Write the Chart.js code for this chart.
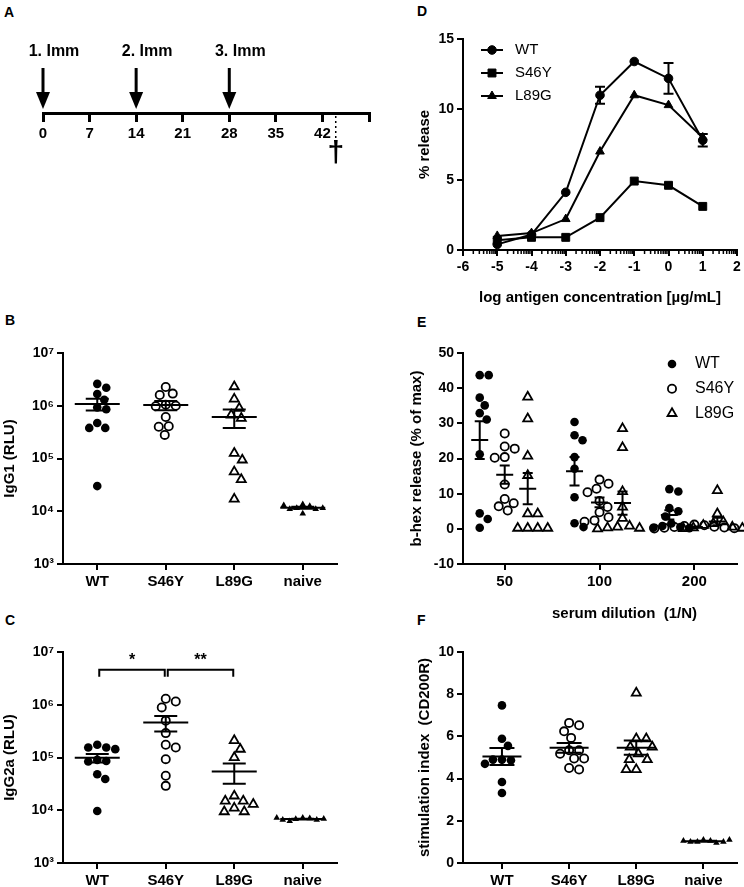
<!DOCTYPE html>
<html>
<head>
<meta charset="utf-8">
<script src="https://cdn.jsdelivr.net/npm/chart.js@4.4.1/dist/chart.umd.min.js"></script>
<style>
  body { margin: 0; background: #fff; width: 744px; height: 887px; position: relative; overflow: hidden; }
  canvas { position: absolute; }
  .lbl { position: absolute; font: bold 14px "Liberation Sans", Arial, sans-serif; line-height: 16px; }
  .ttl { position: absolute; font: bold 15px "Liberation Sans", Arial, sans-serif; line-height: 18px; white-space: pre; }
</style>
</head>
<body>
<div class="lbl" style="left:4px;top:4px">A</div>
<div class="lbl" style="left:5px;top:312px">B</div>
<div class="lbl" style="left:5px;top:612px">C</div>
<div class="lbl" style="left:417px;top:3px">D</div>
<div class="lbl" style="left:417px;top:314px">E</div>
<div class="lbl" style="left:417px;top:612px">F</div>

<canvas id="cA" width="380" height="175" style="left:0;top:0"></canvas>
<canvas id="cB" width="345" height="265" style="left:0;top:335px"></canvas>
<canvas id="cC" width="345" height="257" style="left:0;top:630px"></canvas>
<canvas id="cD" width="364" height="310" style="left:380px;top:0"></canvas>
<canvas id="cE" width="364" height="295" style="left:380px;top:330px"></canvas>
<canvas id="cF" width="364" height="257" style="left:380px;top:630px"></canvas>
<div class="ttl" style="left:552px;top:604px">serum dilution  (1/N)</div>

<script>
// ---- data ----
// A: immunisation schedule (days)
var timelineDays = [0, 7, 14, 21, 28, 35, 42, 49];
var immDays = [0, 14, 28];
var immLabels = ['1. Imm', '2. Imm', '3. Imm'];
var sacrificeDay = 44;

// B / C / F groups
var groups = ['WT', 'S46Y', 'L89G', 'naive'];
var logTicks = [1e3, 1e4, 1e5, 1e6, 1e7];

// B: IgG1 (RLU)
var igg1WT = [2.6e6, 2.2e6, 1.67e6, 1.3e6, 9.3e5, 8.6e5, 4.7e5, 3.8e5, 3.8e5, 3.0e4];
var igg1S46Y = [2.26e6, 1.7e6, 1.6e6, 1.05e6, 1.0e6, 9.8e5, 6.1e5, 4.1e5, 4.0e5, 2.8e5];
var igg1L89G = [2.3e6, 1.34e6, 9.0e5, 6.7e5, 5.8e5, 1.26e5, 9.4e4, 5.6e4, 4.0e4, 1.7e4];
var igg1Naive = [1.35e4, 1.25e4, 1.15e4, 1.1e4, 9.0e3, 1.1e4, 1.15e4, 1.3e4];

// C: IgG2a (RLU)
var igg2aWT = [1.75e5, 1.55e5, 1.55e5, 1.44e5, 9.0e4, 8.6e4, 8.4e4, 4.8e4, 3.9e4, 9.7e3];
var igg2aS46Y = [1.3e6, 1.15e6, 8.9e5, 5.0e5, 2.9e5, 1.75e5, 1.55e5, 9.3e4, 4.5e4, 2.9e4];
var igg2aL89G = [2.1e5, 1.44e5, 1.0e5, 1.87e4, 1.5e4, 1.5e4, 1.3e4, 1.1e4, 9.4e3, 9.4e3];
var igg2aNaive = [7.2e3, 7.0e3, 6.8e3, 6.6e3, 6.2e3, 6.6e3, 6.9e3, 7.2e3];
var igg2aStats = [['WT', 'S46Y', '*'], ['S46Y', 'L89G', '**']];
var statsLevel = 4.6e6, statsFoot = 3.4e6;

// D: % release vs log antigen concentration
var logConc = [-5, -4, -3, -2, -1, 0, 1];
var releaseWT = [0.4, 1.1, 4.1, 11.0, 13.4, 12.2, 7.8];
var releaseWTErr = [0.1, 0.1, 0.1, 0.6, 0.3, 1.1, 0.45];
var releaseS46Y = [0.7, 0.9, 0.9, 2.3, 4.9, 4.6, 3.1];
var releaseL89G = [1.0, 1.2, 2.2, 7.0, 11.0, 10.3, 8.0];

// E: b-hex release (% of max) by serum dilution
var dilutions = ['50', '100', '200'];
var hexWT50 = [43.7, 43.7, 37.3, 35.1, 32.9, 31.1, 21.2, 4.4, 2.8, 0.3];
var hexWT100 = [30.4, 26.6, 25.2, 20.4, 17.1, 9.0, 1.6, 0.5];
var hexWT200 = [11.3, 10.6, 5.9, 5.0, 3.5, 1.5, 0.8, 0.5, 0.3, 0.2];
var hexS46Y50 = [27.1, 23.4, 22.8, 20.4, 20.2, 12.6, 8.5, 7.3, 6.4, 5.2];
var hexS46Y100 = [14.0, 12.8, 11.4, 10.4, 7.9, 6.2, 4.7, 3.3, 2.4, 2.0];
var hexS46Y200 = [1.2, 1.0, 0.8, 0.6, 0.5, 0.4, 0.3, 0.2, 0.1, 0.0];
var hexL89G50 = [37.5, 31.3, 20.7, 15.2, 4.3, 4.3, 0.2, 0.2, 0.2, 0.2];
var hexL89G100 = [28.5, 23.1, 10.6, 6.2, 3.0, 0.8, 0.5, 0.3, 0.2, 0.0];
var hexL89G200 = [10.9, 4.3, 2.0, 1.5, 1.0, 0.5, 0.3, 0.2, 0.1, 0.0];

// F: stimulation index (CD200R)
var stimWT = [7.47, 5.89, 5.55, 4.9, 4.9, 4.87, 4.7, 3.84, 3.32];
var stimS46Y = [6.64, 6.53, 6.24, 5.93, 5.34, 5.34, 5.18, 4.95, 4.95, 4.5, 4.43];
var stimL89G = [8.06, 5.89, 5.89, 5.5, 5.5, 5.18, 4.9, 4.9, 4.43, 4.43];
var stimNaive = [1.1, 1.05, 1.0, 1.0, 0.95, 1.0, 1.05, 1.1];

// ---- styles ----
var FONT = '"Liberation Sans", Arial, sans-serif';
Chart.defaults.font.family = FONT;
Chart.defaults.color = '#000';

var sup = { 3: '\u00b3', 4: '\u2074', 5: '\u2075', 6: '\u2076', 7: '\u2077' };

var filledDot = { pointStyle: 'circle', pointRadius: 4.3, pointBackgroundColor: '#000', pointBorderColor: '#000', pointBorderWidth: 0, swarm: 9 };
var openDot = { pointStyle: 'circle', pointRadius: 4.1, pointBackgroundColor: 'rgba(0,0,0,0)', pointBorderColor: '#000', pointBorderWidth: 1.8, swarm: 9.5 };
var openTri = { pointStyle: 'triangle', pointRadius: 5.2, pointBackgroundColor: 'rgba(0,0,0,0)', pointBorderColor: '#000', pointBorderWidth: 1.8, swarm: 10 };
var naiveTri = { pointStyle: 'triangle', pointRadius: 3.8, pointBackgroundColor: '#000', pointBorderColor: '#000', pointBorderWidth: 0, swarm: 6.3 };

function grid(len) {
    return { drawOnChartArea: false, color: '#000', tickLength: len || 6, lineWidth: 2 };
}
var border = { color: '#000', width: 2 };

function pts(values, x) {
    return values.map(function (v) { return { x: x, y: v }; });
}

function groupsOf(ds) {
    var g = {};
    ds.data.forEach(function (p) { (g[p.x] = g[p.x] || []).push(p.y); });
    return g;
}

// spread points of one group sideways so they do not overlap (beeswarm)
var swarmPlugin = {
    id: 'swarm',
    afterDatasetsUpdate: function (chart) {
        chart.data.datasets.forEach(function (ds, i) {
            if (!ds.swarm) return;
            var meta = chart.getDatasetMeta(i);
            var placed = {};
            meta.data.forEach(function (pt, j) {
                var key = ds.data[j].x;
                var list = placed[key] = placed[key] || [];
                var base = pt.x + (ds.shift || 0);
                var best = 0;
                for (var k = 0; k < 120; k++) {
                    var off = (k % 2 ? 1 : -1) * Math.ceil(k / 2);
                    var ok = list.every(function (p) {
                        return Math.hypot(p.x - (base + off), p.y - pt.y) >= ds.swarm;
                    });
                    if (ok) { best = off; break; }
                }
                pt.x = base + best;
                list.push({ x: pt.x, y: pt.y });
            });
        });
    }
};

// mean with SEM whiskers for each group
var meanSemPlugin = {
    id: 'meanSem',
    afterDatasetsDraw: function (chart) {
        var ctx = chart.ctx, xs = chart.scales.x, ys = chart.scales.y;
        ctx.save();
        ctx.strokeStyle = '#000';
        ctx.lineWidth = 2;
        chart.data.datasets.forEach(function (ds) {
            if (!ds.meanBar) return;
            var g = groupsOf(ds);
            Object.keys(g).forEach(function (key) {
                var v = g[key], n = v.length;
                var m = v.reduce(function (a, b) { return a + b; }, 0) / n;
                var sd = Math.sqrt(v.reduce(function (a, b) { return a + (b - m) * (b - m); }, 0) / (n - 1));
                var sem = sd / Math.sqrt(n);
                var cx = xs.getPixelForValue(Number(key)) + (ds.shift || 0);
                var yM = ys.getPixelForValue(m);
                var yHi = ys.getPixelForValue(m + sem);
                var yLo = ys.getPixelForValue(Math.max(m - sem, ys.min));
                var w = ds.meanBar.w / 2, c = ds.meanBar.cap / 2;
                ctx.beginPath();
                ctx.moveTo(cx - w, yM); ctx.lineTo(cx + w, yM);
                ctx.moveTo(cx, yHi); ctx.lineTo(cx, yLo);
                ctx.moveTo(cx - c, yHi); ctx.lineTo(cx + c, yHi);
                ctx.moveTo(cx - c, yLo); ctx.lineTo(cx + c, yLo);
                ctx.stroke();
            });
        });
        ctx.restore();
    }
};

// error bars for line chart D
var errPlugin = {
    id: 'errBars',
    afterDatasetsDraw: function (chart) {
        var ctx = chart.ctx, xs = chart.scales.x, ys = chart.scales.y;
        ctx.save();
        ctx.strokeStyle = '#000';
        ctx.lineWidth = 2;
        chart.data.datasets.forEach(function (ds) {
            if (!ds.err) return;
            ds.data.forEach(function (p, i) {
                var e = ds.err[i];
                var x = xs.getPixelForValue(p.x);
                var y1 = ys.getPixelForValue(p.y + e), y2 = ys.getPixelForValue(p.y - e);
                if (y2 - y1 < 9) return;
                ctx.beginPath();
                ctx.moveTo(x, y1); ctx.lineTo(x, y2);
                ctx.moveTo(x - 5, y1); ctx.lineTo(x + 5, y1);
                ctx.moveTo(x - 5, y2); ctx.lineTo(x + 5, y2);
                ctx.stroke();
            });
        });
        ctx.restore();
    }
};

// log minor ticks on D x axis
var minorPlugin = {
    id: 'minorTicks',
    afterDraw: function (chart, args, o) {
        if (!o || !o.show) return;
        var ctx = chart.ctx, xs = chart.scales.x, b = chart.chartArea.bottom;
        ctx.save();
        ctx.strokeStyle = '#000';
        ctx.lineWidth = 1.5;
        ctx.beginPath();
        for (var i = xs.min; i < xs.max; i++) {
            for (var k = 2; k <= 9; k++) {
                var x = xs.getPixelForValue(i + Math.log10(k));
                ctx.moveTo(x, b); ctx.lineTo(x, b + 4);
            }
        }
        ctx.stroke();
        ctx.restore();
    }
};

// in-plot legend
var keyPlugin = {
    id: 'key',
    afterDraw: function (chart, args, o) {
        if (!o || !o.show) return;
        var ctx = chart.ctx, a = chart.chartArea;
        ctx.save();
        chart.data.datasets.forEach(function (ds, i) {
            var x = a.left + o.left, y = a.top + o.top + i * o.gap;
            ctx.strokeStyle = '#000';
            if (o.line) {
                ctx.lineWidth = 2;
                ctx.beginPath(); ctx.moveTo(x - 11, y); ctx.lineTo(x + 11, y); ctx.stroke();
            }
            ctx.fillStyle = ds.pointBackgroundColor;
            ctx.lineWidth = ds.pointBorderWidth;
            Chart.helpers.drawPoint(ctx, { pointStyle: ds.pointStyle, radius: ds.pointRadius, borderWidth: ds.pointBorderWidth, rotation: 0 }, x, y);
            ctx.fillStyle = '#000';
            ctx.font = o.font;
            ctx.textBaseline = 'middle';
            ctx.textAlign = 'left';
            ctx.fillText(ds.label, x + o.text, y);
        });
        ctx.restore();
    }
};

// significance brackets
var bracketPlugin = {
    id: 'brackets',
    afterDraw: function (chart, args, o) {
        if (!o || !o.pairs) return;
        var ctx = chart.ctx, xs = chart.scales.x, ys = chart.scales.y;
        var y = ys.getPixelForValue(o.level), yf = ys.getPixelForValue(o.foot);
        ctx.save();
        ctx.strokeStyle = ctx.fillStyle = '#000';
        ctx.lineWidth = 2;
        o.pairs.forEach(function (p) {
            var x1 = xs.getPixelForValue(o.cats.indexOf(p[0])) + 2;
            var x2 = xs.getPixelForValue(o.cats.indexOf(p[1])) - 1;
            ctx.beginPath();
            ctx.moveTo(x1, yf); ctx.lineTo(x1, y); ctx.lineTo(x2, y); ctx.lineTo(x2, yf);
            ctx.stroke();
            ctx.font = 'bold 16px ' + FONT;
            ctx.textAlign = 'center';
            ctx.textBaseline = 'middle';
            ctx.fillText(p[2], (x1 + x2) / 2, y - 9);
        });
        ctx.restore();
    }
};

// A: arrows and sacrifice mark on the time line
var timelinePlugin = {
    id: 'timeline',
    afterDraw: function (chart) {
        var ctx = chart.ctx, xs = chart.scales.x, b = chart.chartArea.bottom;
        ctx.save();
        ctx.strokeStyle = ctx.fillStyle = '#000';
        immDays.forEach(function (d, i) {
            var x = xs.getPixelForValue(d);
            ctx.lineWidth = 3;
            ctx.beginPath(); ctx.moveTo(x, b - 45); ctx.lineTo(x, b - 19); ctx.stroke();
            ctx.beginPath(); ctx.moveTo(x - 7, b - 21); ctx.lineTo(x + 7, b - 21); ctx.lineTo(x, b - 4); ctx.closePath(); ctx.fill();
            ctx.font = 'bold 16px ' + FONT;
            ctx.textAlign = 'center';
            ctx.textBaseline = 'middle';
            ctx.fillText(immLabels[i], x + 11, b - 61);
        });
        var sx = xs.getPixelForValue(sacrificeDay);
        ctx.lineWidth = 1.5;
        ctx.setLineDash([2, 3]);
        ctx.beginPath(); ctx.moveTo(sx, b + 3); ctx.lineTo(sx, b + 27); ctx.stroke();
        ctx.setLineDash([]);
        ctx.font = 'bold 30px ' + FONT;
        ctx.textAlign = 'center';
        ctx.textBaseline = 'middle';
        ctx.fillText('\u2020', sx, b + 41);
        ctx.restore();
    }
};

function catAxis(cats, min, max, h) {
    return {
        type: 'linear', min: min, max: max,
        afterBuildTicks: function (s) { s.ticks = cats.map(function (c, i) { return { value: i }; }); },
        afterFit: function (s) { s.height = h; },
        ticks: { callback: function (v) { return cats[v]; }, font: { size: 15, weight: 'bold' }, color: '#000', padding: 3, autoSkip: false, maxRotation: 0 },
        grid: grid(6), border: border
    };
}

function yTitle(text, pad) {
    return { display: true, text: text, color: '#000', font: { size: 15, weight: 'bold' }, padding: { top: pad, bottom: 0 } };
}

function logAxis(title) {
    return {
        type: 'logarithmic', min: logTicks[0], max: logTicks[logTicks.length - 1],
        afterBuildTicks: function (s) { s.ticks = logTicks.map(function (v) { return { value: v }; }); },
        afterFit: function (s) { s.width = 62; },
        ticks: { callback: function (v) { return '10' + sup[Math.round(Math.log10(v))]; }, font: { size: 14, weight: 'bold' }, color: '#000', padding: 3 },
        grid: grid(6), border: border,
        title: yTitle(title, 0)
    };
}

function dotChart(id, datasets, pad, x, y, plugOpts) {
    var plugins = { legend: { display: false }, tooltip: { enabled: false } };
    Object.assign(plugins, plugOpts || {});
    return new Chart(document.getElementById(id), {
        type: 'scatter',
        data: { datasets: datasets },
        options: {
            responsive: false, animation: false, events: [],
            layout: { padding: pad },
            plugins: plugins,
            scales: { x: x, y: y }
        },
        plugins: [swarmPlugin, meanSemPlugin, keyPlugin, bracketPlugin, errPlugin, minorPlugin]
    });
}

function mk(values, x, style, extra) {
    return Object.assign({ data: pts(values, x), clip: false }, style, extra || {});
}

// ---- A ----
new Chart(document.getElementById('cA'), {
    type: 'scatter',
    data: { datasets: [] },
    options: {
        responsive: false, animation: false, events: [],
        layout: { padding: { left: 43, right: 11, top: 10, bottom: 0 } },
        plugins: { legend: { display: false }, tooltip: { enabled: false } },
        scales: {
            x: {
                type: 'linear', min: timelineDays[0], max: timelineDays[timelineDays.length - 1],
                afterBuildTicks: function (s) { s.ticks = timelineDays.map(function (d) { return { value: d }; }); },
                afterFit: function (s) { s.height = 62; },
                ticks: {
                    callback: function (v) { return v === timelineDays[timelineDays.length - 1] ? '' : v; },
                    font: { size: 15, weight: 'bold' }, color: '#000', padding: 3, autoSkip: false, maxRotation: 0
                },
                grid: { drawOnChartArea: false, color: '#000', tickLength: 9, lineWidth: 3 },
                border: { color: '#000', width: 3 }
            },
            y: { display: false, min: 0, max: 1 }
        }
    },
    plugins: [timelinePlugin]
});

// ---- B ----
dotChart('cB', [
    mk(igg1WT, 0, filledDot, { meanBar: { w: 45, cap: 23 } }),
    mk(igg1S46Y, 1, openDot, { meanBar: { w: 45, cap: 23 } }),
    mk(igg1L89G, 2, openTri, { meanBar: { w: 45, cap: 23 } }),
    mk(igg1Naive, 3, naiveTri, { meanBar: { w: 45, cap: 23 } })
], { left: 1, top: 18, right: 8, bottom: 0 }, catAxis(groups, -0.5, 3.5, 36), logAxis('IgG1 (RLU)'));

// ---- C ----
dotChart('cC', [
    mk(igg2aWT, 0, filledDot, { meanBar: { w: 45, cap: 23 } }),
    mk(igg2aS46Y, 1, openDot, { meanBar: { w: 45, cap: 23 } }),
    mk(igg2aL89G, 2, openTri, { meanBar: { w: 45, cap: 23 } }),
    mk(igg2aNaive, 3, naiveTri, { meanBar: { w: 45, cap: 23 } })
], { left: 1, top: 22, right: 8, bottom: 0 }, catAxis(groups, -0.5, 3.5, 24), logAxis('IgG2a (RLU)'),
    { brackets: { pairs: igg2aStats, cats: groups, level: statsLevel, foot: statsFoot } });

// ---- D ----
function line(label, ys, style) {
    return Object.assign({
        label: label,
        data: logConc.map(function (x, i) { return { x: x, y: ys[i] }; }),
        showLine: true, borderColor: '#000', borderWidth: 2, tension: 0, clip: false,
        pointBackgroundColor: '#000', pointBorderColor: '#000', pointBorderWidth: 1
    }, style);
}
dotChart('cD', [
    line('WT', releaseWT, { pointStyle: 'circle', pointRadius: 4.3, err: releaseWTErr }),
    line('S46Y', releaseS46Y, { pointStyle: 'rect', pointRadius: 5.6 }),
    line('L89G', releaseL89G, { pointStyle: 'triangle', pointRadius: 5 })
], { left: 32, top: 39, right: 7, bottom: 0 }, {
    type: 'linear', min: -6, max: 2,
    afterFit: function (s) { s.height = 60; },
    ticks: { stepSize: 1, font: { size: 14, weight: 'bold' }, color: '#000', padding: 3, maxRotation: 0 },
    grid: grid(6), border: border,
    title: { display: true, text: 'log antigen concentration [\u00b5g/mL]', color: '#000', font: { size: 15, weight: 'bold' }, padding: { top: 0, bottom: 3 } }
}, {
    min: 0, max: 15,
    afterFit: function (s) { s.width = 51; },
    ticks: { stepSize: 5, font: { size: 14, weight: 'bold' }, color: '#000', padding: 3 },
    grid: grid(6), border: border,
    title: yTitle('% release', 4)
}, {
    key: { show: true, left: 29, top: 11, gap: 23, line: true, text: 23, font: '15px ' + FONT },
    minorTicks: { show: true }
});

// ---- E ----
function hexSet(label, a, b, c, style, shift) {
    return Object.assign({
        label: label, clip: false, shift: shift, meanBar: { w: 17, cap: 10 },
        data: pts(a, 0).concat(pts(b, 1), pts(c, 2))
    }, style);
}
dotChart('cE', [
    hexSet('WT', hexWT50, hexWT100, hexWT200, filledDot, -25),
    hexSet('S46Y', hexS46Y50, hexS46Y100, hexS46Y200, openDot, 0),
    hexSet('L89G', hexL89G50, hexL89G100, hexL89G200, openTri, 23)
], { left: 24, top: 23, right: 6, bottom: 0 }, catAxis(dilutions, -0.44, 2.45, 61), {
    min: -10, max: 50,
    afterFit: function (s) { s.width = 59; },
    ticks: { stepSize: 10, font: { size: 14, weight: 'bold' }, color: '#000', padding: 3 },
    grid: grid(6), border: border,
    title: yTitle('b-hex release (% of max)', 4)
}, {
    key: { show: true, left: 209, top: 11, gap: 24.7, line: false, text: 23, font: '16px ' + FONT }
});

// ---- F ----
dotChart('cF', [
    mk(stimWT, 0, filledDot, { meanBar: { w: 39, cap: 25 } }),
    mk(stimS46Y, 1, openDot, { meanBar: { w: 39, cap: 25 } }),
    mk(stimL89G, 2, openTri, { meanBar: { w: 39, cap: 25 } }),
    mk(stimNaive, 3, naiveTri, { meanBar: { w: 39, cap: 25 } })
], { left: 32, top: 22, right: 7, bottom: 0 }, catAxis(groups, -0.58, 3.5, 24), {
    min: 0, max: 10,
    afterFit: function (s) { s.width = 51; },
    ticks: { stepSize: 2, font: { size: 14, weight: 'bold' }, color: '#000', padding: 3 },
    grid: grid(6), border: border,
    title: yTitle('stimulation index  (CD200R)', 4)
});
</script>
</body>
</html>
